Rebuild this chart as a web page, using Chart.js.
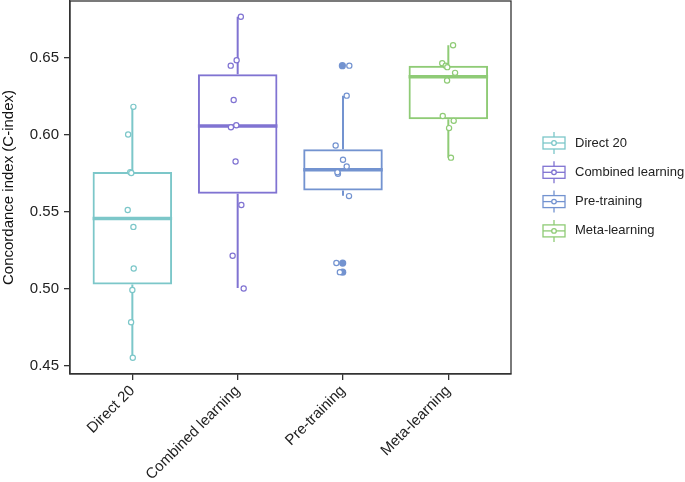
<!DOCTYPE html>
<html>
<head>
<meta charset="utf-8">
<script src="https://cdn.jsdelivr.net/npm/chart.js@4/dist/chart.umd.min.js"></script>
<style>
  body { margin: 0; background: #fff; }
  #wrap { width: 685px; height: 482px; }
</style>
</head>
<body>
<div id="wrap"><canvas id="myChart"></canvas></div>
<script>
// groups
let groups = ["Direct 20", "Combined learning", "Pre-training", "Meta-learning"];
let colors = ["#7cc7c9", "#8073d2", "#7393d0", "#8fcb76"];

// box stats
let q1 = [0.5026, 0.5615, 0.5636, 0.6100];
let median = [0.5455, 0.6055, 0.5771, 0.6375];
let q3 = [0.5756, 0.6392, 0.5905, 0.6448];
let whiskerLow = [0.4550, 0.5003, 0.5602, 0.5850];
let whiskerHigh = [0.6182, 0.6766, 0.6253, 0.6580];

// points per group: values and horizontal jitter (x units)
let direct20 = [0.618, 0.600, 0.5756, 0.5750, 0.551, 0.540, 0.513, 0.499, 0.478, 0.455];
let direct20Jit = [0.01, -0.04, -0.02, -0.01, -0.044, 0.01, 0.013, 0.0, -0.012, 0.004];
let combined = [0.6766, 0.6483, 0.6448, 0.6225, 0.6061, 0.6048, 0.5825, 0.5542, 0.5212, 0.5000];
let combinedJit = [0.03, -0.01, -0.066, -0.038, -0.013, -0.064, -0.02, 0.035, -0.048, 0.057];
let pretrain = [0.6448, 0.6253, 0.5929, 0.5836, 0.5792, 0.5745, 0.5755, 0.5600, 0.5165, 0.5106];
let pretrainJit = [0.06, 0.035, -0.07, 0.0, 0.035, -0.048, -0.053, 0.057, -0.063, -0.03];
let pretrainOut = [0.6448, 0.5165, 0.5106];
let pretrainOutJit = [-0.006, -0.003, -0.003];
let meta = [0.658, 0.6464, 0.6448, 0.6438, 0.6401, 0.6351, 0.6121, 0.6089, 0.6042, 0.5850];
let metaJit = [0.045, -0.058, -0.025, -0.01, 0.064, -0.012, -0.053, 0.051, 0.007, 0.025];

let yTicks = [0.45, 0.50, 0.55, 0.60, 0.65];

const FONT = "'Liberation Sans', Arial, Helvetica, sans-serif";

function toPoints(vals, jit, pos) {
  return vals.map((v, i) => ({ x: pos + jit[i], y: v }));
}

const pointSets = [
  toPoints(direct20, direct20Jit, 1),
  toPoints(combined, combinedJit, 2),
  toPoints(pretrain, pretrainJit, 3),
  toPoints(meta, metaJit, 4),
];

const datasets = [];
// boxes as floating bars
datasets.push({
  type: "bar",
  data: groups.map((g, i) => ({ x: i + 1, y: [q1[i], q3[i]] })),
  backgroundColor: "rgba(0,0,0,0)",
  borderColor: colors,
  borderWidth: 2,
  borderSkipped: false,
  categoryPercentage: 1,
  barPercentage: 0.755,
  order: 2,
});
// jittered points
pointSets.forEach((pts, i) => {
  datasets.push({
    type: "scatter",
    data: pts,
    pointRadius: 2.6,
    pointBorderWidth: 1.2,
    pointBackgroundColor: "#ffffff",
    pointBorderColor: colors[i],
    order: 0,
  });
});
// outliers of pre-training (filled)
datasets.push({
  type: "scatter",
  data: toPoints(pretrainOut, pretrainOutJit, 3),
  pointRadius: 3.6,
  pointBorderWidth: 0,
  pointBackgroundColor: colors[2],
  order: 1,
});

// 畫中位數和鬚線
const boxPlugin = {
  id: "boxExtras",
  beforeDatasetsDraw(chart) {
    const { ctx, scales: { x, y } } = chart;
    ctx.save();
    groups.forEach((g, i) => {
      const cx = x.getPixelForValue(i + 1);
      ctx.strokeStyle = colors[i];
      ctx.lineWidth = 2;
      ctx.beginPath();
      ctx.moveTo(cx, y.getPixelForValue(q3[i]));
      ctx.lineTo(cx, y.getPixelForValue(whiskerHigh[i]));
      ctx.moveTo(cx, y.getPixelForValue(q1[i]));
      ctx.lineTo(cx, y.getPixelForValue(whiskerLow[i]));
      ctx.stroke();
    });
    ctx.restore();
  },
  afterDatasetDraw(chart, args) {
    if (args.index !== 0) return;
    const { ctx, scales: { x, y } } = chart;
    const halfW = (x.getPixelForValue(1.3775) - x.getPixelForValue(1));
    ctx.save();
    groups.forEach((g, i) => {
      const cx = x.getPixelForValue(i + 1);
      ctx.strokeStyle = colors[i];
      ctx.lineWidth = 3.5;
      ctx.beginPath();
      const my = y.getPixelForValue(median[i]);
      ctx.moveTo(cx - halfW, my);
      ctx.lineTo(cx + halfW, my);
      ctx.stroke();
    });
    ctx.restore();
  },
  afterDraw(chart) {
    const { ctx, chartArea: a } = chart;
    ctx.save();
    // 外框
    ctx.strokeStyle = "#333";
    ctx.lineWidth = 1.3;
    ctx.strokeRect(a.left, a.top, a.right - a.left, a.bottom - a.top);

    // 圖例
    const lx = 543, ly0 = 143, step = 29.3;
    groups.forEach((g, i) => {
      const cy = ly0 + i * step;
      ctx.strokeStyle = colors[i];
      ctx.lineWidth = 1.3;
      ctx.beginPath();
      ctx.moveTo(lx + 11, cy - 11);
      ctx.lineTo(lx + 11, cy - 6);
      ctx.moveTo(lx + 11, cy + 6);
      ctx.lineTo(lx + 11, cy + 11);
      ctx.stroke();
      ctx.strokeRect(lx, cy - 6, 22, 12);
      ctx.beginPath();
      ctx.moveTo(lx, cy);
      ctx.lineTo(lx + 22, cy);
      ctx.stroke();
      ctx.beginPath();
      ctx.fillStyle = "#fff";
      ctx.arc(lx + 11, cy, 2.3, 0, Math.PI * 2);
      ctx.fill();
      ctx.stroke();
      ctx.fillStyle = "#222";
      ctx.font = "13px " + FONT;
      ctx.textBaseline = "middle";
      ctx.textAlign = "left";
      ctx.fillText(g, lx + 32, cy);
    });
    ctx.restore();
  },
};

const chart = new Chart(document.getElementById("myChart").getContext("2d"), {
  data: { datasets: datasets },
  plugins: [boxPlugin],
  options: {
    responsive: true,
    maintainAspectRatio: false,
    animation: false,
    layout: { autoPadding: false, padding: { left: 0, right: 174, top: 1, bottom: 0 } },
    plugins: {
      legend: { display: false },
      tooltip: { enabled: false },
    },
    scales: {
      x: {
        type: "linear",
        offset: false,
        min: 0.408,
        max: 4.595,
        afterBuildTicks: (axis) => {
          axis.ticks = [1, 2, 3, 4].map((v) => ({ value: v }));
        },
        afterFit: (axis) => {
          axis.height = 108;
          axis.paddingLeft = 0;
          axis.paddingRight = 0;
        },
        grid: { offset: false, drawOnChartArea: false, drawTicks: true, tickLength: 6, color: "#333", lineWidth: 1.3 },
        border: { color: "#333", width: 1.3 },
        ticks: {
          color: "#222",
          font: { family: FONT, size: 15 },
          minRotation: 45,
          maxRotation: 45,
          padding: 2,
          callback: (v) => groups[v - 1],
        },
      },
      y: {
        type: "linear",
        min: 0.4444,
        max: 0.6868,
        afterBuildTicks: (axis) => {
          axis.ticks = yTicks.map((v) => ({ value: v }));
        },
        afterFit: (axis) => {
          axis.width = 70;
          axis.paddingTop = 0;
          axis.paddingBottom = 0;
        },
        grid: { drawOnChartArea: false, drawTicks: true, tickLength: 6, color: "#333", lineWidth: 1.3 },
        border: { color: "#333", width: 1.3 },
        ticks: {
          color: "#222",
          font: { family: FONT, size: 15 },
          padding: 5,
          callback: (v) => v.toFixed(2),
        },
        title: {
          display: true,
          text: "Concordance index (C-index)",
          color: "#111",
          font: { family: FONT, size: 15 },
          padding: { top: 0, bottom: 0 },
        },
      },
    },
  },
});
</script>
</body>
</html>
